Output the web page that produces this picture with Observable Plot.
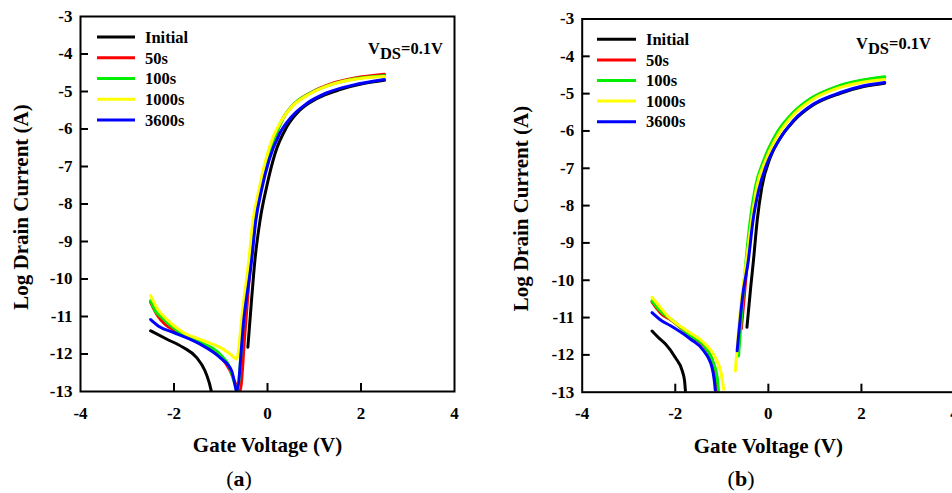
<!DOCTYPE html>
<html>
<head>
<meta charset="utf-8">
<script src="https://cdn.jsdelivr.net/npm/d3@7"></script>
<script src="https://cdn.jsdelivr.net/npm/@observablehq/plot@0.6"></script>
<style>
  html, body { margin: 0; padding: 0; background: #fff; }
  #fig { position: relative; width: 952px; height: 493px; overflow: hidden;
         font-family: "Liberation Serif", "Times New Roman", serif; }
  .panel { position: absolute; top: 0; }
  #fig svg g[aria-label$="tick label"] text {
    font-family: "Liberation Serif", "Times New Roman", serif;
    font-weight: bold; font-size: 17px; fill: #000;
  }
  .cap { position: absolute; top: 464px; width: 80px; text-align: center;
         font-size: 22px; line-height: 30px; color: #000; }
  .cap b { font-weight: bold; }
</style>
</head>
<body>
<div id="fig"></div>
<script>
// Legend entries and line colours (stress time)
const seriesNames = ["Initial", "50s", "100s", "1000s", "3600s"];
const seriesColors = ["#000000", "#ff0000", "#00ee00", "#ffff00", "#0000ff"];

// Axis ticks
const xTicks = [-4, -2, 0, 2, 4];
const yTicks = [-13, -12, -11, -10, -9, -8, -7, -6, -5, -4, -3];

// ---- Panel (a): [gate voltage V, log10 drain current A] ----
const aInitialOff = [[-2.5,-11.38],[-2.16,-11.6],[-1.81,-11.82],[-1.52,-12.09],[-1.34,-12.44],[-1.25,-12.75],[-1.2,-13.0]];
const aInitialOn  = [[-0.42,-11.82],[-0.35,-10.7],[-0.27,-9.51],[-0.16,-8.44],[-0.02,-7.55],[0.16,-6.66],[0.41,-5.95],[0.69,-5.5],[1.05,-5.19],[1.55,-4.95],[2.05,-4.79],[2.5,-4.7]];
const a50s   = [[-2.5,-10.62],[-2.35,-10.98],[-2.2,-11.2],[-1.95,-11.4],[-1.45,-11.72],[-1.02,-12.05],[-0.81,-12.42],[-0.66,-12.85],[-0.59,-13.0],[-0.48,-11.4],[-0.36,-9.51],[-0.27,-8.44],[-0.17,-7.73],[-0.02,-6.93],[0.16,-6.21],[0.33,-5.72],[0.58,-5.32],[0.94,-5.02],[1.37,-4.79],[1.87,-4.64],[2.5,-4.54]];
const a100s  = [[-2.5,-10.58],[-2.4,-10.85],[-2.27,-11.02],[-1.95,-11.36],[-1.45,-11.68],[-1.02,-12.0],[-0.81,-12.36],[-0.7,-12.8],[-0.65,-13.0],[-0.52,-11.2],[-0.38,-9.51],[-0.28,-8.44],[-0.17,-7.73],[-0.02,-6.93],[0.16,-6.21],[0.33,-5.72],[0.58,-5.32],[0.94,-5.03],[1.37,-4.81],[1.87,-4.66],[2.5,-4.58]];
const a1000s = [[-2.5,-10.44],[-2.35,-10.8],[-2.16,-11.07],[-1.81,-11.42],[-1.38,-11.64],[-0.95,-11.87],[-0.8,-12.0],[-0.66,-12.13],[-0.53,-10.8],[-0.4,-9.51],[-0.31,-8.44],[-0.2,-7.73],[-0.06,-6.93],[0.12,-6.21],[0.3,-5.77],[0.55,-5.37],[0.91,-5.06],[1.33,-4.83],[1.83,-4.68],[2.5,-4.6]];
const a3600s = [[-2.5,-11.08],[-2.3,-11.28],[-2.02,-11.42],[-1.45,-11.73],[-1.02,-12.09],[-0.77,-12.44],[-0.69,-12.85],[-0.66,-13.0],[-0.5,-11.0],[-0.34,-9.51],[-0.25,-8.44],[-0.13,-7.64],[0.03,-6.84],[0.26,-6.12],[0.51,-5.68],[0.84,-5.32],[1.26,-5.04],[1.83,-4.83],[2.5,-4.68]];

// ---- Panel (b) ----
const bInitialOff = [[-2.5,-11.36],[-2.35,-11.55],[-2.21,-11.71],[-2.0,-12.07],[-1.85,-12.43],[-1.8,-12.7],[-1.78,-13.0]];
const bInitialOn  = [[-0.46,-11.26],[-0.38,-10.2],[-0.32,-9.47],[-0.24,-8.4],[-0.14,-7.51],[0.04,-6.71],[0.25,-6.2],[0.54,-5.74],[0.97,-5.3],[1.55,-4.99],[2.05,-4.81],[2.5,-4.72]];
const b50sOff    = [[-2.5,-10.58],[-2.3,-10.9],[-2.1,-11.06],[-1.67,-11.5],[-1.35,-11.82],[-1.18,-12.25],[-1.12,-12.7],[-1.1,-13.0]];
const b50sOn     = [[-0.58,-11.3],[-0.5,-10.2],[-0.45,-9.47],[-0.36,-8.4],[-0.26,-7.51],[-0.09,-6.79],[0.16,-6.12],[0.48,-5.59],[0.9,-5.15],[1.47,-4.82],[1.97,-4.66],[2.5,-4.57]];
const b100sOff   = [[-2.5,-10.55],[-2.3,-10.85],[-2.1,-11.04],[-1.67,-11.49],[-1.35,-11.8],[-1.17,-12.25],[-1.1,-12.6],[-1.07,-13.0]];
const b100sOn    = [[-0.64,-12.03],[-0.55,-10.5],[-0.48,-9.47],[-0.39,-8.4],[-0.28,-7.51],[-0.1,-6.79],[0.15,-6.12],[0.47,-5.59],[0.9,-5.14],[1.47,-4.81],[1.97,-4.65],[2.5,-4.55]];
const b1000sOff  = [[-2.5,-10.46],[-2.3,-10.76],[-2.17,-10.95],[-1.74,-11.36],[-1.39,-11.67],[-1.14,-12.07],[-1.01,-12.52],[-0.96,-12.92]];
const b1000sOn   = [[-0.71,-12.43],[-0.6,-10.8],[-0.47,-9.47],[-0.36,-8.4],[-0.25,-7.51],[-0.06,-6.79],[0.2,-6.12],[0.52,-5.59],[0.96,-5.15],[1.53,-4.84],[2.0,-4.7],[2.5,-4.62]];
const b3600sOff  = [[-2.5,-10.87],[-2.3,-11.08],[-2.1,-11.22],[-1.67,-11.58],[-1.39,-11.89],[-1.21,-12.34],[-1.16,-12.7],[-1.14,-12.95]];
const b3600sOn   = [[-0.67,-11.89],[-0.55,-10.4],[-0.43,-9.47],[-0.33,-8.4],[-0.21,-7.6],[-0.03,-6.88],[0.22,-6.26],[0.54,-5.72],[0.97,-5.28],[1.55,-4.97],[2.05,-4.79],[2.5,-4.7]];

// Flatten branches into rows for Plot.line
function toRows(branches) {
  const rows = [];
  branches.forEach(([series, pts], k) => {
    pts.forEach(([v, logI]) => rows.push({series, key: series + "-" + k, v, logI}));
  });
  return rows;
}

const dataA = toRows([
  ["Initial", aInitialOff], ["Initial", aInitialOn],
  ["50s", a50s], ["100s", a100s], ["1000s", a1000s], ["3600s", a3600s]
]);
const dataB = toRows([
  ["Initial", bInitialOff], ["Initial", bInitialOn],
  ["50s", b50sOff], ["50s", b50sOn],
  ["100s", b100sOff], ["100s", b100sOn],
  ["1000s", b1000sOff], ["1000s", b1000sOn],
  ["3600s", b3600sOff], ["3600s", b3600sOn]
]);

const serif = '"Liberation Serif", "Times New Roman", serif';
const tickFont = {fontFamily: serif, fontWeight: "bold", fontSize: 17};

function transferPanel({data, width, height, m, ylabelDx, legend, vds}) {
  const fw = width - m.left - m.right;
  const fh = height - m.top - m.bottom;
  const svg = Plot.plot({
    width, height,
    marginLeft: m.left, marginRight: m.right, marginTop: m.top, marginBottom: m.bottom,
    style: {fontFamily: serif, fontWeight: "bold", fontSize: "17px",
            background: "none", color: "#000", overflow: "visible"},
    x: {domain: [-4, 4]},
    y: {domain: [-13, -3]},
    color: {domain: seriesNames, range: seriesColors},
    marks: [
      Plot.line(data, {x: "v", y: "logI", z: "key", stroke: "series", strokeWidth: 3,
                       curve: "monotone-x", clip: "frame"}),
      // inward tick marks
      Plot.gridX(xTicks.slice(1, -1), {stroke: "#000", strokeOpacity: 1, strokeWidth: 2, insetTop: fh - 8}),
      Plot.gridY(yTicks.slice(1, -1), {stroke: "#000", strokeOpacity: 1, strokeWidth: 2, insetRight: fw - 8}),
      Plot.axisX(xTicks, {tickSize: 0, tickPadding: 15, label: null, tickFormat: d => String(d), ...tickFont}),
      Plot.axisY(yTicks, {tickSize: 0, tickPadding: 8, label: null, tickFormat: d => String(d), ...tickFont}),
      Plot.frame({stroke: "#000", strokeWidth: 2}),
      Plot.text(["Gate Voltage (V)"], {text: d => d, frameAnchor: "bottom", lineAnchor: "middle", dy: 54,
                                       fontFamily: serif, fontWeight: "bold", fontSize: 21}),
      Plot.text(["Log Drain Current (A)"], {text: d => d, frameAnchor: "left", textAnchor: "middle",
                                            dx: ylabelDx, dy: 3, rotate: -90,
                                            fontFamily: serif, fontWeight: "bold", fontSize: 21})
    ]
  });

  // legend
  const g = d3.select(svg).append("g")
    .attr("font-family", serif).attr("text-anchor", "start")
    .attr("font-weight", "bold").attr("font-size", 16.5);
  seriesNames.forEach((name, i) => {
    const y = legend.y + i * legend.step;
    g.append("line").attr("x1", legend.x1).attr("x2", legend.x2).attr("y1", y).attr("y2", y)
      .attr("stroke", seriesColors[i]).attr("stroke-width", 3);
    g.append("text").attr("x", legend.tx).attr("y", y).attr("dy", "0.35em").attr("fill", "#000").text(name);
  });

  // drain bias annotation
  const t = g.append("text").attr("x", vds.x).attr("y", vds.y).attr("fill", "#000");
  t.append("tspan").text("V");
  t.append("tspan").attr("dy", 5).text("DS");
  t.append("tspan").attr("dy", -5).text("=0.1V");
  return svg;
}

const fig = document.getElementById("fig");

const svgA = transferPanel({
  data: dataA, width: 476, height: 460,
  m: {left: 80, right: 22, top: 16, bottom: 69},
  ylabelDx: -59,
  legend: {x1: 97, x2: 135, tx: 145, y: 37, step: 20.75},
  vds: {x: 368, y: 54}
});
svgA.classList.add("panel");
svgA.style.left = "0px";
fig.appendChild(svgA);

const svgB = transferPanel({
  data: dataB, width: 500, height: 460,
  m: {left: 105.7, right: 22, top: 18.5, bottom: 68.3},
  ylabelDx: -60.7,
  legend: {x1: 121, x2: 160, tx: 170, y: 39.3, step: 20.6},
  vds: {x: 380, y: 48.5}
});
svgB.classList.add("panel");
svgB.style.left = "476px";
fig.appendChild(svgB);

// sub-figure captions
[["a", 239], ["b", 741]].forEach(([letter, cx]) => {
  const d = document.createElement("div");
  d.className = "cap";
  d.style.left = (cx - 40) + "px";
  d.innerHTML = "(<b>" + letter + "</b>)";
  fig.appendChild(d);
});
</script>
</body>
</html>
